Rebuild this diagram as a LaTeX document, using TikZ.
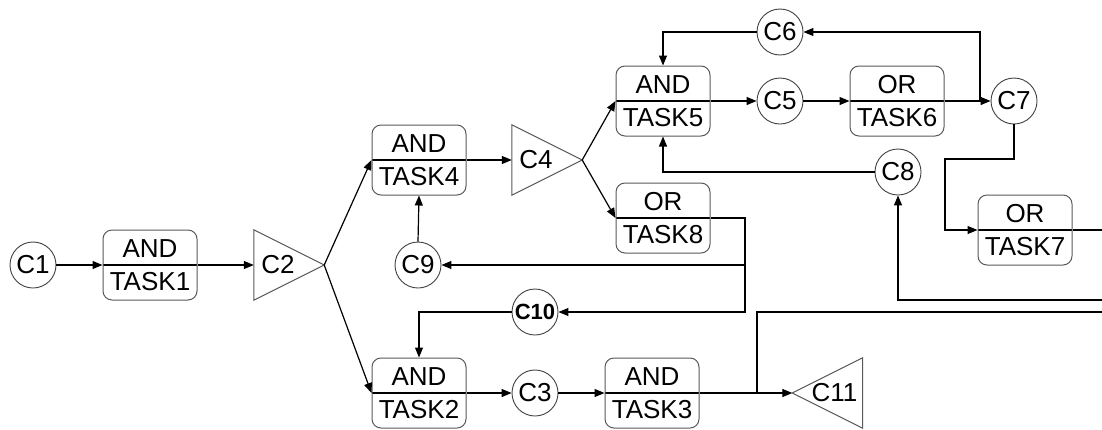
\documentclass[tikz,border=0pt]{standalone}
\usepackage{fontspec}
\setmainfont{Liberation Sans}
\usetikzlibrary{arrows.meta,calc}
\begin{document}
\begin{tikzpicture}[x=1pt,y=-1pt,
  task/.style={draw=black!65, line width=1pt, rounded corners=9pt,
    minimum width=94pt, minimum height=70pt, inner sep=0pt, align=center,
    font=\fontsize{26}{33}\selectfont,
    path picture={\draw[black, line width=1.2pt] (path picture bounding box.west) -- (path picture bounding box.east);}},
  cond/.style={circle, draw=black!75, line width=0.9pt, minimum size=46pt,
    inner sep=0pt, font=\fontsize{26}{26}\selectfont},
  tri/.style={minimum width=70pt, minimum height=70pt, inner sep=0pt,
    font=\fontsize{26}{26}\selectfont},
  triline/.style={draw=black!65, line width=1pt},
  flow/.style={draw, line width=1.2pt, -{Triangle[length=10pt,width=8pt]}},
  link/.style={draw, line width=1.2pt},
]
\useasboundingbox (0,0) rectangle (1102,429);

% condition circles
\node[cond] (C1) at (33,265) {C1};
\node[cond] (C3) at (535,393) {C3};
\node[cond] (C5) at (780,101) {C5};
\node[cond] (C6) at (780,32) {C6};
\node[cond] (C7) at (1014,101) {C7};
\node[cond] (C8) at (898,172) {C8};
\node[cond] (C9) at (418,265) {C9};
\node[cond, font=\bfseries\fontsize{22}{22}\selectfont] (C10) at (535,312) {C10};

% tasks
\node[task] (T1) at (150,265) {AND\\TASK1};
\node[task] (T4) at (419,160) {AND\\TASK4};
\node[task] (T5) at (663,101) {AND\\TASK5};
\node[task] (T6) at (897,101) {OR\\TASK6};
\node[task] (T7) at (1025,230) {OR\\TASK7};
\node[task] (T8) at (663,218) {OR\\TASK8};
\node[task] (T2) at (419,393) {AND\\TASK2};
\node[task] (T3) at (652,393) {AND\\TASK3};

% triangles
\node[tri] (C2) at (289,265) {C2\hspace*{22pt}};
\draw[triline] (C2.north west) -- (C2.east) -- (C2.south west) -- cycle;
\node[tri] (C4) at (547,160) {C4\hspace*{22pt}};
\draw[triline] (C4.north west) -- (C4.east) -- (C4.south west) -- cycle;
\node[tri] (C11) at (827.5,393) {\hspace*{14pt}C11};
\draw[triline] (C11.north east) -- (C11.west) -- (C11.south east) -- cycle;

% helper coordinates
\coordinate (J1) at (980,101);
\coordinate (K1) at (945,159);
\coordinate (E1) at (1102,230);
\coordinate (E2) at (1102,300);
\coordinate (E3) at (1102,312);
\coordinate (J2) at (757,393);
\coordinate (J3) at (745,312);
\coordinate (J4) at (745,265);

% connectors
\draw[flow] (C1.east) -- (T1.west);
\draw[flow] (T1.east) -- (C2.west);
\draw[flow] (C2.east) -- (T4.west);
\draw[flow] (C2.east) -- (T2.west);
\draw[flow] (T4.east) -- (C4.west);
\draw[flow] (C4.east) -- (T5.west);
\draw[flow] (C4.east) -- (T8.west);
\draw[flow] (T5.east) -- (C5.west);
\draw[flow] (C5.east) -- (T6.west);
\draw[flow] (T6.east) -- (C7.west);
\draw[flow] (J1) |- (C6.east);
\draw[flow] (C6.west) -| (T5.north);
\draw[flow] (C8.west) -| (T5.south);
\draw[flow] (C7.south) |- (K1) |- (T7.west);
\draw[link] (T7.east) -- (E1);
\draw[flow] (E2) -| (C8.south);
\draw[link] (E3) -| (J2);
\draw[flow] (T3.east) -- (C11.west);
\draw[flow] (T8.east) -| (J3) -- (C10.east);
\draw[flow] (J4) -- (C9.east);
\draw[flow] (C9.north) -- (T4.south);
\draw[flow] (C10.west) -| (T2.north);
\draw[flow] (T2.east) -- (C3.west);
\draw[flow] (C3.east) -- (T3.west);
\end{tikzpicture}
\end{document}
